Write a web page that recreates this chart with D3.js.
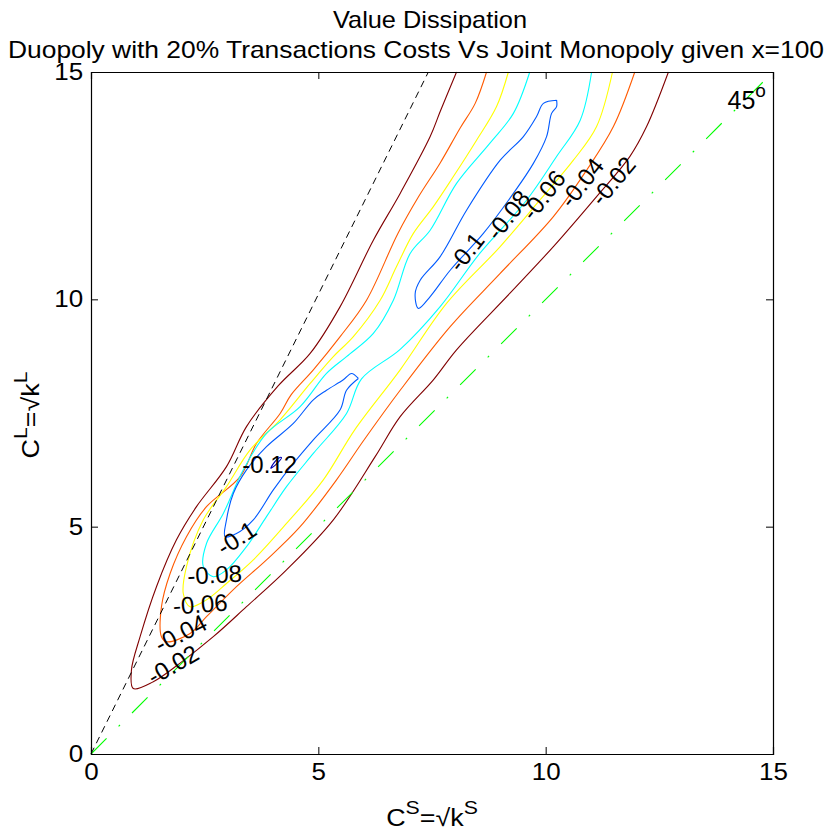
<!DOCTYPE html>
<html>
<head>
    <title>Value Dissipation</title>
    <script src="https://d3js.org/d3.v7.min.js"></script>
    <style>
        body { margin: 0; background: #fff; }
        text { font-family: "Liberation Sans", Arial, sans-serif; }
    </style>
</head>
<body>
<script type="text/javascript">
    const w = 833;
    const h = 830;

    // axis ticks
    const xTicks = [0, 5, 10, 15];
    const yTicks = [0, 5, 10, 15];

    // reference lines
    const line45 = [[0, 0], [15, 15]];
    const lineSteep = [[0, 0], [7.42, 15]];

    // contour levels
    const c02 = [[8.04,15.0],[7.68,14.13],[7.46,13.58],[6.80,12.33],[6.21,11.30],[5.48,9.84],[4.82,8.81],[4.12,8.10],[3.42,7.20],[2.98,6.32],[2.32,5.44],[1.88,4.71],[1.44,3.68],[1.08,2.58],[0.89,1.85],[0.93,1.44],[1.37,1.59],[1.96,2.00],[2.69,2.58],[3.42,3.24],[4.30,4.05],[5.33,5.15],[6.25,6.54],[6.80,7.42],[7.53,8.23],[8.04,8.89],[9.21,10.13],[10.17,11.16],[11.12,12.26],[11.85,13.14],[12.22,13.80],[12.70,15.0]];
    const c04 = [[8.70,15.0],[8.45,14.31],[8.12,13.77],[7.68,13.00],[7.20,12.25],[6.75,11.45],[6.06,9.98],[5.48,9.18],[4.89,8.45],[4.40,7.90],[4.16,7.49],[3.64,6.83],[3.28,6.10],[2.54,5.44],[2.10,4.78],[1.74,3.97],[1.55,3.24],[1.55,2.58],[1.66,2.47],[2.18,2.65],[2.54,3.02],[3.20,3.68],[3.86,4.27],[4.60,5.00],[5.40,6.03],[6.00,6.90],[6.80,8.00],[7.90,9.40],[9.00,10.57],[10.17,11.82],[10.90,12.84],[11.49,13.80],[11.96,15.0]];
    const c06 = [[9.18,15.0],[8.92,14.24],[8.48,13.50],[7.97,12.70],[7.53,12.04],[7.09,11.45],[6.72,10.72],[6.36,9.98],[5.77,9.18],[5.33,8.74],[4.82,8.15],[4.16,7.35],[3.50,6.69],[2.98,5.88],[2.47,5.15],[2.10,4.12],[2.03,3.53],[2.18,3.24],[2.54,3.39],[2.98,3.75],[3.57,4.27],[4.30,5.07],[5.11,6.03],[5.80,7.13],[6.80,8.45],[7.82,9.91],[9.00,11.16],[9.87,12.18],[10.61,13.06],[11.12,13.80],[11.47,15.0]];
    const c08 = [[9.65,15.0],[9.29,14.09],[8.77,13.43],[8.04,12.55],[7.46,11.52],[7.02,11.01],[6.65,9.98],[6.21,9.25],[5.62,8.74],[5.18,8.37],[4.60,7.64],[3.86,7.05],[3.35,6.25],[2.91,5.29],[2.54,4.63],[2.47,4.12],[2.69,3.90],[2.98,4.05],[3.42,4.56],[3.86,5.22],[4.30,5.88],[4.89,6.61],[5.62,7.49],[5.95,8.25],[6.80,8.90],[7.68,9.84],[8.55,11.01],[9.58,12.18],[10.24,13.14],[10.76,13.94],[11.01,15.0]];
    const c10a = [[5.88,8.26],[5.62,8.00],[5.48,7.57],[4.89,6.91],[4.45,6.39],[4.01,5.81],[3.57,5.15],[3.20,4.85],[2.95,4.78],[2.98,5.15],[3.13,5.73],[3.42,6.25],[3.86,6.76],[4.45,7.27],[4.89,7.79],[5.18,8.00],[5.55,8.23],[5.73,8.37],[5.88,8.26]];
    const c10b = [[10.24,14.38],[10.24,14.24],[10.13,14.09],[10.02,13.58],[9.73,12.99],[9.29,12.33],[8.63,11.45],[7.90,10.64],[7.46,10.06],[7.20,9.80],[7.13,10.13],[7.24,10.42],[7.68,10.94],[8.26,11.96],[9.00,13.06],[9.51,13.58],[9.80,14.02],[9.95,14.31],[10.24,14.38]];
    const c12 = [[3.95,6.28],[4.06,6.36],[4.19,6.52],[4.13,6.51],[4.00,6.37],[3.95,6.28]];

    const contours = [
        {level: -0.02, pts: c02, color: '#800000'},
        {level: -0.04, pts: c04, color: '#ff5a00'},
        {level: -0.06, pts: c06, color: '#ffff00'},
        {level: -0.08, pts: c08, color: '#00ffff'},
        {level: -0.1, pts: c10a, color: '#005aff'},
        {level: -0.1, pts: c10b, color: '#005aff'},
        {level: -0.12, pts: c12, color: '#0000b0'}
    ];

    // inline contour labels: position and angle
    const labelText = ['-0.12', '-0.1', '-0.08', '-0.06', '-0.04', '-0.02', '-0.1', '-0.08', '-0.06', '-0.04', '-0.02'];
    const labelX = [3.93, 3.20, 2.72, 2.40, 1.97, 1.80, 8.25, 9.17, 9.95, 10.79, 11.48];
    const labelY = [6.36, 4.75, 3.95, 3.30, 2.66, 1.97, 11.05, 11.86, 12.30, 12.57, 12.61];
    const labelAngle = [0, -33, -3, -4, -27, -30, -52, -52, -52, -52, -50];

    const svg = d3.select('body').append('svg').attr('width', w).attr('height', h);

    const xScale = d3.scaleLinear().domain([0, 15]).range([91, 773]);
    const yScale = d3.scaleLinear().domain([0, 15]).range([754, 72]);

    const line = d3.line()
        .x(d => xScale(d[0]))
        .y(d => yScale(d[1]));

    const smooth = d3.line()
        .x(d => xScale(d[0]))
        .y(d => yScale(d[1]))
        .curve(d3.curveCatmullRom.alpha(0.5));

    // contours
    svg.append('g')
        .selectAll('path')
        .data(contours)
        .enter()
        .append('path')
        .attr('d', d => smooth(d.pts))
        .attr('fill', 'none')
        .attr('stroke', d => d.color)
        .attr('stroke-width', 1.1);

    // 2:1 dashed line
    svg.append('path')
        .attr('d', line(lineSteep))
        .attr('fill', 'none')
        .attr('stroke', '#000')
        .attr('stroke-width', 1)
        .attr('stroke-dasharray', '7,5');

    // 45 degree line
    svg.append('path')
        .attr('d', line(line45))
        .attr('fill', 'none')
        .attr('stroke', '#00ff00')
        .attr('stroke-width', 1.1)
        .attr('stroke-dasharray', '22,17,2,17');

    // contour labels
    svg.append('g')
        .selectAll('text')
        .data(labelText)
        .enter()
        .append('text')
        .attr('transform', (d, i) => 'translate(' + xScale(labelX[i]) + ',' + yScale(labelY[i]) + ') rotate(' + labelAngle[i] + ')')
        .attr('text-anchor', 'middle')
        .attr('dy', '0.36em')
        .attr('font-size', '24px')
        .text(d => d);

    // 45 degree label
    const t45 = svg.append('text')
        .attr('x', xScale(14.0))
        .attr('y', yScale(14.18))
        .attr('font-size', '25px');
    t45.append('tspan').text('45');
    t45.append('tspan').attr('dy', -12).attr('font-size', '19px').text('o');

    // axes
    const axB = d3.axisBottom(xScale).tickValues(xTicks).tickSize(-7).tickPadding(10);
    const axT = d3.axisTop(xScale).tickValues(xTicks).tickSize(-7).tickFormat('');
    const axL = d3.axisLeft(yScale).tickValues(yTicks).tickSize(-7).tickPadding(7);
    const axR = d3.axisRight(yScale).tickValues(yTicks).tickSize(-7).tickFormat('');

    const gB = svg.append('g').attr('transform', 'translate(0,754)').call(axB);
    const gT = svg.append('g').attr('transform', 'translate(0,72)').call(axT);
    const gL = svg.append('g').attr('transform', 'translate(91,0)').call(axL);
    const gR = svg.append('g').attr('transform', 'translate(773,0)').call(axR);

    [gB, gT, gL, gR].forEach(g => {
        g.select('.domain').attr('stroke', '#000').attr('stroke-width', 1.2);
        g.selectAll('.tick line').attr('stroke', '#000');
        g.selectAll('.tick text')
            .attr('font-family', '"Liberation Sans", Arial, sans-serif')
            .attr('font-size', '23px')
            .attr('transform', 'scale(1.13,1)')
            .attr('fill', '#000');
    });

    // title
    svg.append('text')
        .attr('x', 333)
        .attr('y', 28)
        .attr('font-size', '24px')
        .attr('textLength', 194)
        .attr('lengthAdjust', 'spacingAndGlyphs')
        .text('Value Dissipation');
    svg.append('text')
        .attr('x', 8)
        .attr('y', 58)
        .attr('font-size', '24px')
        .attr('textLength', 816)
        .attr('lengthAdjust', 'spacingAndGlyphs')
        .text('Duopoly with 20% Transactions Costs Vs Joint Monopoly given x=100');

    // x label
    const xl = svg.append('text')
        .attr('transform', 'translate(432,826) scale(1.12,1)')
        .attr('text-anchor', 'middle')
        .attr('font-size', '24px');
    xl.append('tspan').text('C');
    xl.append('tspan').attr('dy', -12).attr('font-size', '19px').text('S');
    xl.append('tspan').attr('dy', 12).text('=√k');
    xl.append('tspan').attr('dy', -12).attr('font-size', '19px').text('S');

    // y label
    const yl = svg.append('text')
        .attr('transform', 'translate(39,415) rotate(-90) scale(1.12,1)')
        .attr('text-anchor', 'middle')
        .attr('font-size', '24px');
    yl.append('tspan').text('C');
    yl.append('tspan').attr('dy', -12).attr('font-size', '19px').text('L');
    yl.append('tspan').attr('dy', 12).text('=√k');
    yl.append('tspan').attr('dy', -12).attr('font-size', '19px').text('L');
</script>
</body>
</html>
